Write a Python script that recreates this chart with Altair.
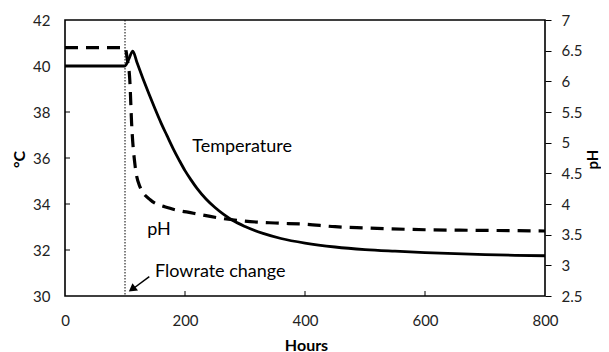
import altair as alt
import pandas as pd

# ---- data ----
temp_hours = [0, 100, 106, 113, 120, 130, 140, 150, 160, 170, 180, 190, 200, 210, 220, 235, 250, 265, 280,
              300, 330, 360, 400, 450, 500, 550, 600, 650, 700, 750, 800]
temp_c = [40, 40, 40.28, 40.65, 40.15, 39.45, 38.78, 38.14, 37.53, 36.97, 36.42, 35.92, 35.45, 35.05, 34.68,
          34.22, 33.85, 33.54, 33.28, 33.02, 32.72, 32.5, 32.3, 32.13, 32.02, 31.95, 31.89, 31.84, 31.8, 31.77, 31.75]

ph_hours = [0, 100, 104, 108, 111, 117, 125, 142, 175, 214, 258, 300, 350, 400, 450, 500, 600, 700, 800]
ph_vals = [6.55, 6.55, 6.35, 6.02, 5.32, 4.61, 4.28, 4.07, 3.93, 3.85, 3.77, 3.72, 3.69, 3.67, 3.63, 3.61, 3.58, 3.57, 3.56]

flow_change_hours = [100]

label_texts = ["Temperature", "pH", "Flowrate change"]
label_hours = [212, 137, 150]
label_temp = [36.48, 32.87, 31.04]

arrow_tail = (140.5, 30.84)
arrow_tip = (110.5, 30.26)
arrow_head = (113.5, 30.33)

x_ticks = [0, 200, 400, 600, 800]
x_inner_ticks = [200, 400, 600]
temp_ticks = [30, 32, 34, 36, 38, 40, 42]
temp_inner_ticks = [32, 34, 36, 38, 40]
ph_ticks = [2.5, 3, 3.5, 4, 4.5, 5, 5.5, 6, 6.5, 7]

FONT = "Lato"

temp_df = pd.DataFrame({"hours": temp_hours, "temp": temp_c})
ph_df = pd.DataFrame({"hours": ph_hours, "ph": ph_vals})
flow_df = pd.DataFrame({"hours": flow_change_hours})
lab_df = pd.DataFrame({"text": label_texts, "hours": label_hours, "temp": label_temp})
arrow_df = pd.DataFrame({"x": [arrow_tail[0]], "y": [arrow_tail[1]], "x2": [arrow_tip[0]], "y2": [arrow_tip[1]]})
head_df = pd.DataFrame({"x": [arrow_head[0]], "y": [arrow_head[1]]})
xt_df = pd.DataFrame({"hours": x_inner_ticks})
yt_df = pd.DataFrame({"temp": temp_inner_ticks})

xscale = alt.Scale(domain=[0, 800], nice=False)
tscale = alt.Scale(domain=[30, 42], nice=False)
pscale = alt.Scale(domain=[2.5, 7], nice=False)

x_axis = alt.Axis(values=x_ticks, title="Hours", grid=False, domain=False, ticks=False,
                  labelPadding=17, labelFontSize=15, labelFlush=False,
                  labelColor="#222", labelFont=FONT, titleFont=FONT, titleFontSize=16,
                  titleFontWeight="bold", titleColor="black",
                  titleX=241, titleY=49, titleBaseline="middle", titleAlign="center")
t_axis = alt.Axis(values=temp_ticks, title="°C", grid=False, domain=False, ticks=False,
                  labelPadding=15, labelFontSize=15, labelFlush=False,
                  format="d", labelColor="#222", labelFont=FONT, titleFont=FONT,
                  titleFontSize=16, titleFontWeight="bold", titleColor="black",
                  titleAngle=-90, titleX=-46, titleY=139, titleBaseline="middle",
                  titleAlign="center")
p_axis = alt.Axis(values=ph_ticks, title="pH", orient="right", grid=False, domain=False,
                  tickSize=6, tickColor="black", labelPadding=10, labelFontSize=15,
                  labelFlush=False, format="~g", labelColor="#222", labelFont=FONT,
                  titleFont=FONT, titleFontSize=15, titleFontWeight="bold",
                  titleColor="black", titleAngle=-90, titleX=47, titleY=139,
                  titleBaseline="middle", titleAlign="center")

temp_line = alt.Chart(temp_df).mark_line(color="black", strokeWidth=2.8, interpolate="monotone").encode(
    x=alt.X("hours:Q", scale=xscale, axis=x_axis),
    y=alt.Y("temp:Q", scale=tscale, axis=t_axis),
)

left_ticks = alt.Chart(yt_df).mark_rule(color="black", strokeWidth=1).encode(
    y=alt.Y("temp:Q", scale=tscale), x=alt.value(0), x2=alt.value(5),
)
bottom_ticks = alt.Chart(xt_df).mark_rule(color="black", strokeWidth=1).encode(
    x=alt.X("hours:Q", scale=xscale), y=alt.value(276), y2=alt.value(271),
)

flow_rule = alt.Chart(flow_df).mark_rule(color="black", strokeWidth=1, strokeDash=[1.5, 1.5]).encode(
    x=alt.X("hours:Q", scale=xscale),
)

labels = alt.Chart(lab_df).mark_text(align="left", baseline="middle", fontSize=18, font=FONT, color="black").encode(
    x=alt.X("hours:Q", scale=xscale),
    y=alt.Y("temp:Q", scale=tscale),
    text="text:N",
)

arrow_shaft = alt.Chart(arrow_df).mark_rule(color="black", strokeWidth=1.5).encode(
    x=alt.X("x:Q", scale=xscale), y=alt.Y("y:Q", scale=tscale), x2="x2:Q", y2="y2:Q",
)
arrow_tip_mark = alt.Chart(head_df).mark_point(shape="triangle", filled=True, color="black", size=85, angle=233, opacity=1).encode(
    x=alt.X("x:Q", scale=xscale), y=alt.Y("y:Q", scale=tscale),
)

temp_group = alt.layer(temp_line, left_ticks, bottom_ticks, flow_rule, labels, arrow_shaft, arrow_tip_mark)

ph_line = alt.Chart(ph_df).mark_line(color="black", strokeWidth=3.2, strokeDash=[13, 8], interpolate="monotone").encode(
    x=alt.X("hours:Q", scale=xscale),
    y=alt.Y("ph:Q", scale=pscale, axis=p_axis),
)

chart = alt.layer(temp_group, ph_line).resolve_scale(y="independent").properties(
    width=480, height=276,
    autosize=alt.AutoSizeParams(type="none"),
    padding={"left": 57, "top": 12, "right": 56, "bottom": 56},
    background="white",
).configure_view(stroke="black", strokeWidth=1.6)

chart.save("out.html", embed_options={"renderer": "svg", "actions": False})
